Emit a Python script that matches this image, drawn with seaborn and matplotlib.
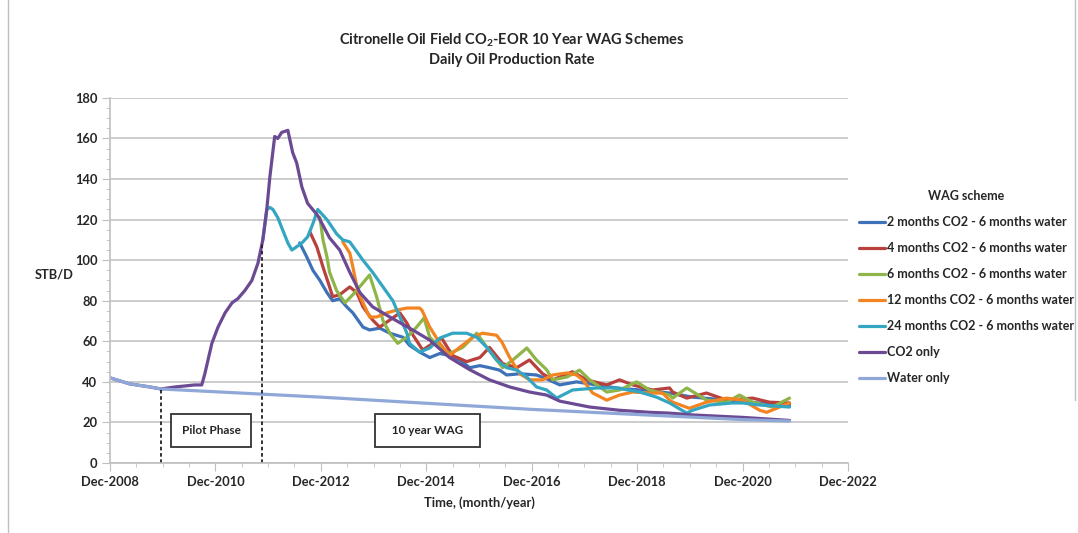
import numpy as np
import pandas as pd
import matplotlib
matplotlib.use('Agg')
import matplotlib.pyplot as plt
import seaborn as sns
from matplotlib.ticker import MultipleLocator
from matplotlib.lines import Line2D

# months since Dec-2008, daily oil rate (STB/D)
water_t = [0, 4.5, 9.1, 11.6, 47.8, 71.7, 95.5, 111.5, 144.0, 154.7]
water_v = [42, 39, 37.5, 36.5, 32.5, 29.5, 26.5, 24.8, 21.4, 20.7]

co2_t = [0, 4.5, 9.1, 11.6, 14.8, 17.1, 19.3, 20.9, 21.6, 23.2, 24.6, 26.2, 27.8, 29.1, 30.7,
         32.3, 33.7, 34.8, 35.7, 36.4, 37.5, 38.2, 39.1, 40.5, 41.6, 42.5, 43.7, 45.0, 47.3,
         50.0, 52.3, 54.6, 56.9, 59.8, 63.7, 68.2, 72.8, 77.3, 81.9, 86.4, 91.0, 95.5, 99.4,
         102.4, 109.2, 116.0, 122.8, 127.4, 132.6, 144.0, 154.7]
co2_v = [42, 39, 37.5, 36.5, 37.5, 38, 38.5, 38.5, 44, 59, 67, 74, 79, 81, 85,
         90, 98.6, 110, 125, 141, 161, 160, 163, 164, 153, 148, 136, 128, 122,
         111, 105, 94, 84, 77, 72, 66.5, 60.6, 52, 46, 41, 37.5, 35, 33.5,
         30.5, 27.6, 26, 25, 24.6, 23.7, 22.5, 21]

m2_t = [43.2, 44.8, 46.2, 47.8, 49.4, 50.7, 52.3, 53.9, 55.3, 57.6, 59.1, 61.4, 63.7, 66.7,
        68.2, 70.5, 72.8, 75.1, 77.3, 79.6, 81.9, 84.2, 86.4, 88.7, 90.3, 93.3, 97.1, 99.4,
        102.4, 106.2, 110.8, 115.3, 120.6, 127.4, 132.6, 140.4, 147.9, 154.7]
m2_v = [108.5, 101.6, 95, 90, 84, 80, 81, 77, 74, 67, 65.6, 66.5, 64, 62,
        58, 54.7, 52, 54, 53, 50.8, 47, 48, 47, 45.8, 43.4, 44, 43.4, 41.5,
        38.5, 40, 38.5, 37, 36, 34.5, 32.5, 31, 29.6, 28.6]

m4_t = [45.5, 47.1, 48.5, 50.0, 50.7, 52.3, 54.6, 56.2, 57.6, 59.8, 61.4, 63.7, 66.0, 67.6,
        69.0, 71.2, 73.5, 75.5, 78.0, 81.2, 84.2, 86.4, 89.4, 92.6, 95.5, 98.5, 100.8,
        105.3, 108.5, 113.1, 116.0, 119.0, 123.5, 127.4, 128.1, 131.3, 135.8, 140.4, 146.3,
        150.1, 154.7]
m4_v = [114, 106.5, 96.6, 86.8, 82, 83, 86.8, 84, 77, 70.5, 67, 70.5, 74, 69,
        63, 55.7, 59, 61.6, 53, 50, 52, 57, 49, 47, 50.8, 44, 41,
        45, 41, 38.5, 41, 38.5, 36, 37, 35, 32, 34.5, 31, 32,
        30, 29.6]

m6_t = [47.8, 48.5, 49.4, 50.0, 51.6, 53.5, 55.3, 57.3, 59.1, 60.7, 62.1, 63.7, 65.5, 67.6,
        69.8, 71.5, 72.8, 75.1, 77.3, 80.3, 83.5, 85.8, 88.0, 89.4, 91.7, 94.9, 97.1, 99.4,
        100.8, 104.0, 106.9, 109.2, 113.1, 116.0, 119.9, 122.8, 127.4, 128.1, 131.3, 135.8,
        140.4, 143.3, 146.3, 150.8, 154.7]
m6_v = [121, 110, 101.6, 94, 85, 79, 83, 88, 92.7, 82, 70.5, 64, 59, 62,
        67, 71.5, 62, 57, 54, 57, 64, 57, 50.8, 47, 50.8, 56.7, 50.8, 46,
        41, 42.4, 45.8, 41, 35, 36, 40, 36, 33.5, 32, 37, 31,
        30, 33.5, 30, 27.6, 32]

m12_t = [53.0, 54.6, 55.3, 56.4, 57.6, 59.1, 60.7, 63.0, 65.3, 67.6, 70.5, 71.0, 72.8, 75.1,
         77.3, 79.6, 82.6, 84.8, 88.0, 89.2, 91.0, 93.3, 95.5, 98.5, 100.8, 104.0, 106.2,
         107.6, 109.9, 113.1, 116.0, 119.0, 122.8, 125.8, 127.4, 128.1, 131.9, 135.8, 140.4,
         144.0, 147.9, 149.5, 154.7]
m12_v = [109, 103.5, 96.6, 85, 79, 72, 72, 74, 75.4, 76.4, 76.4, 75.4, 67, 59,
         53, 57, 62, 64, 63, 59.7, 52, 44, 41, 41, 43.4, 44.4, 43.4,
         41, 34.5, 31, 33.5, 35, 34.5, 34.5, 31, 30, 27, 30, 32,
         31, 26, 25, 29.6]

m24_t = [34.8, 35.7, 36.4, 37.1, 38.2, 39.3, 40.5, 41.4, 42.1, 43.7, 45.0, 46.2, 47.3, 49.4,
         51.6, 53.0, 54.6, 57.6, 59.8, 62.1, 64.4, 66.0, 67.6, 68.2, 70.5, 72.8, 75.1, 78.0,
         81.2, 83.5, 85.8, 88.0, 90.3, 92.6, 94.9, 97.1, 99.4, 101.7, 105.3, 110.8, 115.3,
         120.6, 124.4, 127.4, 131.3, 132.6, 136.5, 141.7, 144.0, 147.9, 154.7]
m24_v = [110, 125, 126, 125, 121, 115, 108.5, 105, 106, 108.5, 111.5, 118, 125, 120,
         113, 110, 109, 100, 94, 87, 80, 72, 64, 59, 54.7, 56.7, 61.6, 64,
         64, 62, 57, 50.8, 47, 45.8, 42.4, 37.5, 36, 32, 36, 37, 37,
         35, 32.5, 29.6, 24.6, 26, 28.6, 29.6, 29.6, 28.6, 27.6]

labels = ['2 months CO2 - 6 months water', '4 months CO2 - 6 months water',
          '6 months CO2 - 6 months water', '12 months CO2 - 6 months water',
          '24 months CO2 - 6 months water', 'CO2 only', 'Water only']
colors = ['#3E72B8', '#B8413D', '#8DB548', '#F28522', '#35A6C2', '#6B4A93', '#8FA8D8']
series = [(m2_t, m2_v), (m4_t, m4_v), (m6_t, m6_v), (m12_t, m12_v),
          (m24_t, m24_v), (co2_t, co2_v), (water_t, water_v)]

xtick_pos = [0, 24, 48, 72, 96, 120, 144, 168]
xtick_labels = ['Dec-2008', 'Dec-2010', 'Dec-2012', 'Dec-2014', 'Dec-2016', 'Dec-2018',
                'Dec-2020', 'Dec-2022']

# pilot phase / WAG start markers
phase_t = [11.6, 34.6]
phase_top = [37, 109]

sns.set_style('white')
plt.rcParams['font.family'] = ['Lato', 'DejaVu Sans']

fig = plt.figure(figsize=(10.78, 5.33), dpi=100)
ax = fig.add_axes([0.102, 0.1313, 0.6846, 0.685])

for (t, v), lab, col in zip(series, labels, colors):
    df = pd.DataFrame({'month': t, 'rate': v})
    sns.lineplot(data=df, x='month', y='rate', color=col, label=lab, linewidth=2.3,
                 estimator=None, ax=ax)

ax.vlines(phase_t, 0, phase_top, colors='#222222', linestyles=(0, (2, 1.5)), linewidth=1.3)

box = dict(boxstyle='square,pad=0.9', facecolor='white', edgecolor='#333333', linewidth=1.3)
ax.text(23, 16, 'Pilot Phase', ha='center', va='center', fontsize=8.5, fontweight='bold', bbox=box)
ax.text(72.3, 16, '  10 year WAG  ', ha='center', va='center', fontsize=8.5, fontweight='bold', bbox=box)

ax.set_xlim(0, 168)
ax.set_ylim(0, 180)
ax.set_xticks(xtick_pos)
ax.set_xticklabels(xtick_labels)
ax.set_yticks(np.arange(0, 181, 20))
ax.xaxis.set_minor_locator(MultipleLocator(6))
ax.yaxis.set_minor_locator(MultipleLocator(5))
ax.tick_params(axis='both', which='major', direction='out', length=6, color='#BFBFBF',
               labelsize=9.3, pad=3)
ax.tick_params(axis='both', which='minor', direction='out', length=3, color='#BFBFBF')
ax.tick_params(axis='x', which='both', bottom=True)
ax.tick_params(axis='y', which='both', left=True)
for lab in ax.get_xticklabels() + ax.get_yticklabels():
    lab.set_fontweight('bold')
ax.yaxis.grid(True, color='#C8C8C8', linewidth=1.3)
ax.xaxis.grid(False)
for s in ['top', 'right']:
    ax.spines[s].set_visible(False)
for s in ['left', 'bottom']:
    ax.spines[s].set_color('#BFBFBF')
    ax.spines[s].set_linewidth(1.2)

ax.set_xlabel('Time, (month/year)', fontsize=9.3, fontweight='bold', labelpad=6)
ax.set_ylabel('STB/D', fontsize=9.3, fontweight='bold', rotation=0, labelpad=0)
ax.yaxis.set_label_coords(-0.075, 0.5)

fig.text(0.475, 0.925, 'Citronelle Oil Field CO$_\\mathregular{2}$-EOR 10 Year WAG Schemes',
         ha='center', va='center', fontsize=10.5, fontweight='bold')
fig.text(0.475, 0.887, 'Daily Oil Production Rate', ha='center', va='center',
         fontsize=10.5, fontweight='bold')

leg = ax.legend(loc='upper left', bbox_to_anchor=(0.797, 0.643), bbox_transform=fig.transFigure,
                frameon=False, title='WAG scheme', fontsize=9, title_fontsize=9,
                handlelength=2.1, handletextpad=0.1, labelspacing=1.12, borderpad=0,
                borderaxespad=0)
for txt in leg.get_texts():
    txt.set_fontweight('bold')
leg.get_title().set_fontweight('bold')
leg._legend_box.align = 'center'

# outer chart border pieces
fig.add_artist(Line2D([0.0075, 0.0075], [0, 1], transform=fig.transFigure, color='#BFBFBF', lw=1))
fig.add_artist(Line2D([0.997, 0.997], [0.25, 1], transform=fig.transFigure, color='#BFBFBF', lw=1))

fig.savefig('out.png', dpi=100)
